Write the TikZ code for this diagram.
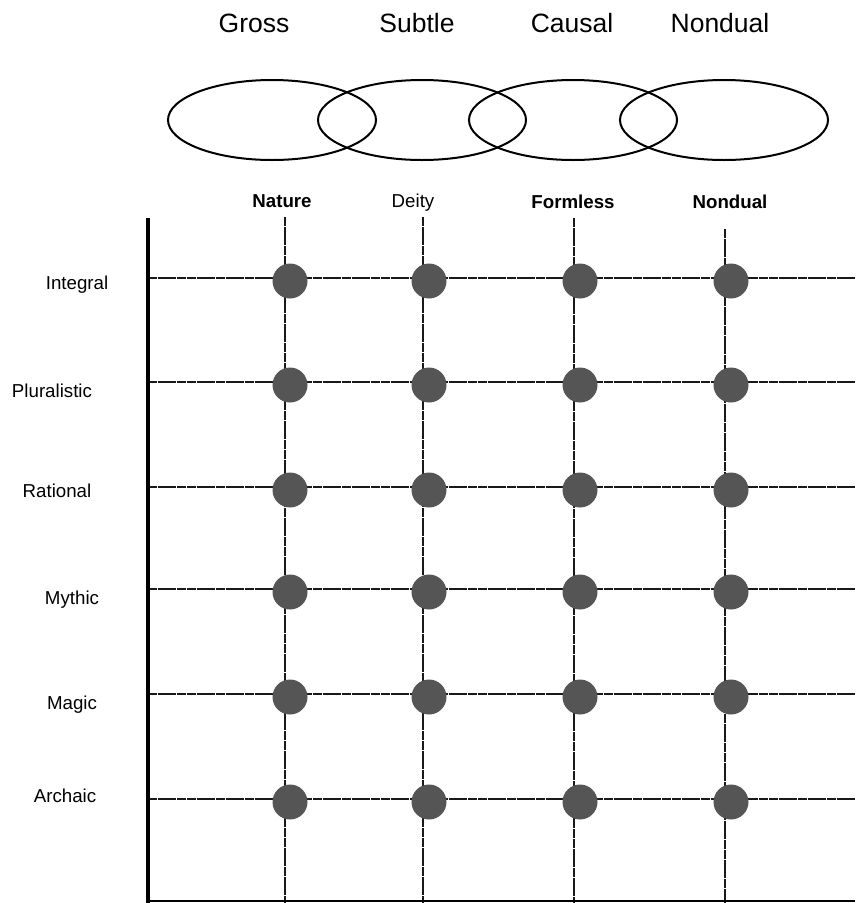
\documentclass[tikz,border=0pt]{standalone}
\usepackage{fontspec}
\setmainfont{Liberation Sans}
\usetikzlibrary{shapes.geometric}
\definecolor{dotgray}{RGB}{85,85,85}
\begin{document}
\begin{tikzpicture}[x=1pt,y=-1pt,
  toplabel/.style={anchor=base,inner sep=0pt,font=\fontsize{26.5}{30}\selectfont},
  collabel/.style={anchor=base,inner sep=0pt,font=\fontsize{18.7}{22}\selectfont},
  rowlabel/.style={anchor=base,inner sep=0pt,font=\fontsize{18.7}{22}\selectfont},
  ring/.style={ellipse,draw,line width=2pt,minimum width=208pt,minimum height=80pt,inner sep=0pt},
  gridline/.style={line width=2pt,black!90,dash pattern=on 9pt off 0.7pt},
  axisline/.style={line width=3.2pt,black},
  dot/.style={circle,fill=dotgray,minimum size=35pt,inner sep=0pt}]
\useasboundingbox (0,0) rectangle (855,903);
% top labels
\node[toplabel] (gross) at (254,32) {Gross};
\node[toplabel] (subtle) at (417,32) {Subtle};
\node[toplabel] (causal) at (572,32) {Causal};
\node[toplabel] (nondualtop) at (720,32) {Nondual};
% ellipses
\node[ring] (e1) at (272,120) {};
\node[ring] (e2) at (422,120) {};
\node[ring] (e3) at (573,120) {};
\node[ring] (e4) at (724,120) {};
% column labels
\node[collabel,font=\fontsize{18.7}{22}\selectfont\bfseries] (nature) at (282,207) {Nature};
\node[collabel] (deity) at (413,207) {Deity};
\node[collabel,font=\fontsize{18.7}{22}\selectfont\bfseries] (formless) at (573,208) {Formless};
\node[collabel,font=\fontsize{18.7}{22}\selectfont\bfseries] (nondualcol) at (730,208) {Nondual};
% row labels
\node[rowlabel] (integral) at (77,289) {Integral};
\node[rowlabel] (pluralistic) at (52,397) {Pluralistic};
\node[rowlabel] (rational) at (57,497) {Rational};
\node[rowlabel] (mythic) at (72,604) {Mythic};
\node[rowlabel] (magic) at (72,709) {Magic};
\node[rowlabel] (archaic) at (65,802) {Archaic};
% grid coordinates
\coordinate (axtop) at (148,218);
\coordinate (axbot) at (148,903);
\coordinate (botL) at (148,901);
\coordinate (botR) at (855,901);
\foreach \r/\y in {1/278,2/382,3/487,4/589,5/694,6/799}{
  \coordinate (hl\r) at (148,\y);
  \coordinate (hr\r) at (855,\y);
}
\foreach \c/\x/\t in {1/285/217,2/423/217,3/574/218,4/725/229}{
  \coordinate (vt\c) at (\x,\t);
  \coordinate (vb\c) at (\x,903);
}
% grid lines
\foreach \c in {1,...,4}{ \draw[gridline] (vt\c) -- (vb\c); }
\foreach \r in {1,...,6}{ \draw[gridline] (hl\r) -- (hr\r); }
\draw[line width=1.8pt] (botL) -- (botR);
\draw[axisline] (axtop) -- (axbot);
% dots
\foreach \c/\x in {1/290,2/429,3/580,4/731}{
  \foreach \r/\y in {1/281,2/385,3/490,4/592,5/697,6/802}{
    \node[dot] (d\c\r) at (\x,\y) {};
  }
}
\end{tikzpicture}
\end{document}
